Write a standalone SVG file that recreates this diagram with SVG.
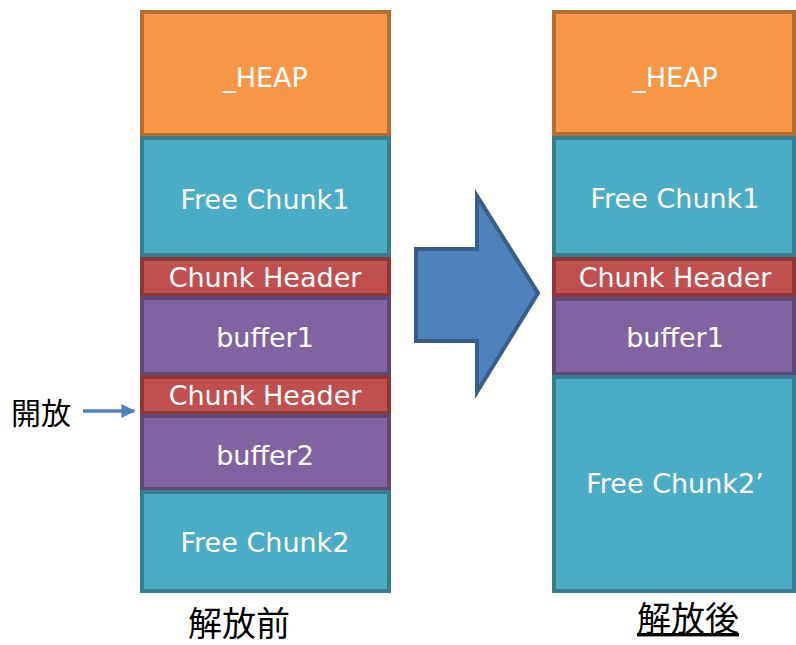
<svg xmlns="http://www.w3.org/2000/svg" width="796" height="645" viewBox="0 0 796 645">
  <style>
    .blk { stroke-width: 4; }
    .heap { fill: #F79646; stroke: #B66D31; }
    .free { fill: #4BACC6; stroke: #357D8F; }
    .hdr { fill: #C0504D; stroke: #8C3836; }
    .buf { fill: #8064A2; stroke: #5C4776; }
    .lbl { font-family: "DejaVu Sans", Verdana, sans-serif; font-size: 27px; fill: #FFFFFF; text-anchor: middle; }
    .jp { font-family: "Noto Sans CJK JP", "Noto Sans", sans-serif; fill: #000000; }
  </style>
  <defs>
    <marker id="tip" viewBox="0 0 10 10" refX="9" refY="5" markerWidth="4" markerHeight="4" markerUnits="strokeWidth" orient="auto">
      <path d="M0,0 L10,5 L0,10 Z" fill="#4F81BD"/>
    </marker>
  </defs>
  <rect width="796" height="645" fill="#FFFFFF"/>

  <!-- heap before free -->
  <g id="before">
    <g id="b-heap"><rect class="blk heap" x="142" y="12" width="247" height="123"/><text class="lbl" x="265" y="87">_HEAP</text></g>
    <g id="b-free1"><rect class="blk free" x="142" y="138" width="247" height="117"/><text class="lbl" x="265" y="209">Free Chunk1</text></g>
    <g id="b-hdr1"><rect class="blk hdr" x="142" y="259" width="247" height="36"/><text class="lbl" x="265" y="287">Chunk Header</text></g>
    <g id="b-buf1"><rect class="blk buf" x="142" y="298" width="247" height="76"/><text class="lbl" x="265" y="347">buffer1</text></g>
    <g id="b-hdr2"><rect class="blk hdr" x="142" y="377" width="247" height="36"/><text class="lbl" x="265" y="405">Chunk Header</text></g>
    <g id="b-buf2"><rect class="blk buf" x="142" y="416" width="247" height="73"/><text class="lbl" x="265" y="465">buffer2</text></g>
    <g id="b-free2"><rect class="blk free" x="142" y="492" width="247" height="99"/><text class="lbl" x="265" y="552">Free Chunk2</text></g>
    <text class="jp" x="239" y="636" font-size="34" text-anchor="middle">解放前</text>
  </g>

  <!-- heap after free -->
  <g id="after">
    <g id="a-heap"><rect class="blk heap" x="554" y="12" width="240" height="122"/><text class="lbl" x="675" y="87">_HEAP</text></g>
    <g id="a-free1"><rect class="blk free" x="554" y="138" width="240" height="117"/><text class="lbl" x="675" y="208">Free Chunk1</text></g>
    <g id="a-hdr1"><rect class="blk hdr" x="554" y="259" width="240" height="36"/><text class="lbl" x="675" y="287">Chunk Header</text></g>
    <g id="a-buf1"><rect class="blk buf" x="554" y="299" width="240" height="75"/><text class="lbl" x="675" y="347">buffer1</text></g>
    <g id="a-free2"><rect class="blk free" x="554" y="377" width="240" height="214"/><text class="lbl" x="675" y="493">Free Chunk2’</text></g>
    <text class="jp" x="688" y="631" font-size="34" text-anchor="middle" text-decoration="underline">解放後</text>
  </g>

  <!-- connectors -->
  <g id="connectors">
    <path d="M416,249 L477,249 L477,196 L538,293 L477,392 L477,341 L416,341 Z" fill="#4F81BD" stroke="#385D8A" stroke-width="4" stroke-linejoin="miter"/>
    <line x1="83" y1="411" x2="134" y2="411" stroke="#4F81BD" stroke-width="3.5" marker-end="url(#tip)"/>
    <text class="jp" x="11" y="424" font-size="30">開放</text>
  </g>
</svg>
